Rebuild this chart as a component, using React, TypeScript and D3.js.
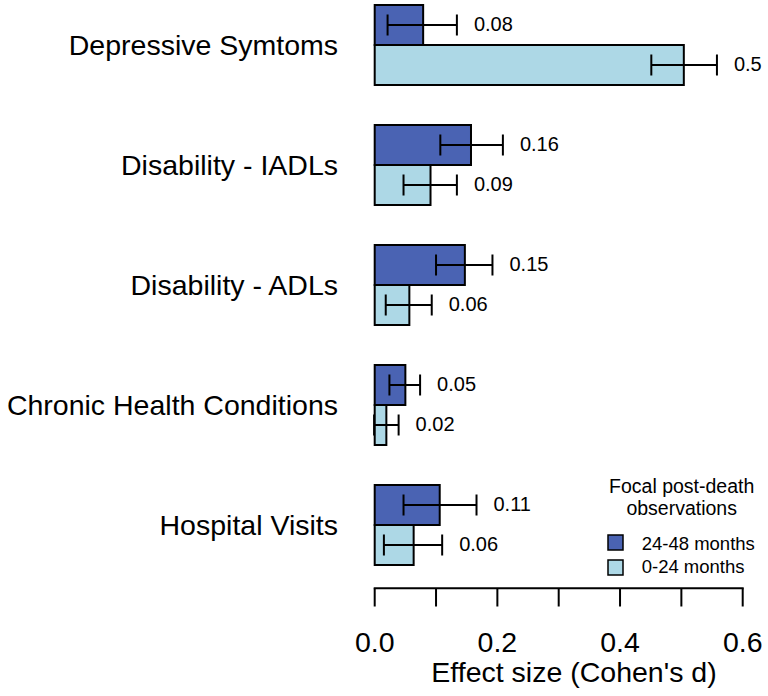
import React from "react";
import * as d3 from "d3";

const categories = ["Depressive Symtoms", "Disability - IADLs", "Disability - ADLs", "Chronic Health Conditions", "Hospital Visits"];
const series = ["24-48 months", "0-24 months"];
const values24_48 = [0.079, 0.157, 0.147, 0.05, 0.106];
const lower24_48 = [0.021, 0.107, 0.1, 0.024, 0.047];
const upper24_48 = [0.134, 0.209, 0.192, 0.074, 0.166];
const labels24_48 = ["0.08", "0.16", "0.15", "0.05", "0.11"];
const values0_24 = [0.504, 0.091, 0.0565, 0.019, 0.0635];
const lower0_24 = [0.451, 0.047, 0.018, -0.001, 0.015];
const upper0_24 = [0.558, 0.134, 0.093, 0.039, 0.11];
const labels0_24 = ["0.5", "0.09", "0.06", "0.02", "0.06"];
const xTicks = [0, 0.1, 0.2, 0.3, 0.4, 0.5, 0.6];
const xTickLabels = ["0.0", "", "0.2", "", "0.4", "", "0.6"];

const DARK = "#4A63B3";
const LIGHT = "#ADD8E6";
const FONT = "'Liberation Sans', Arial, Helvetica, sans-serif";

export default function App() {
  const W = 768, H = 696;
  const x = d3.scaleLinear().domain([0, 0.6]).range([374.7, 742.7]);
  const yGroup = d3.scaleBand<string>().domain(categories).range([5, 605]).paddingInner(1 / 3).paddingOuter(0);
  // each group: 80px tall (two 40px bars), 120px step
  const bw = 40;
  const groupTop = (i: number) => 5 + i * 120;

  const bars: any[] = [];
  categories.forEach((c, i) => {
    const top = groupTop(i);
    const rows = [
      { v: values24_48[i], lo: lower24_48[i], hi: upper24_48[i], lab: labels24_48[i], fill: DARK, y: top },
      { v: values0_24[i], lo: lower0_24[i], hi: upper0_24[i], lab: labels0_24[i], fill: LIGHT, y: top + bw },
    ];
    rows.forEach((r, j) => {
      const cy = r.y + bw / 2;
      bars.push(
        <g key={`${i}-${j}`}>
          <rect x={x(0)} y={r.y} width={x(r.v) - x(0)} height={bw} fill={r.fill} stroke="#000" strokeWidth={2} />
          <line x1={x(r.lo)} x2={x(r.hi)} y1={cy} y2={cy} stroke="#000" strokeWidth={2} />
          <line x1={x(r.lo)} x2={x(r.lo)} y1={cy - 10.5} y2={cy + 10.5} stroke="#000" strokeWidth={2} />
          <line x1={x(r.hi)} x2={x(r.hi)} y1={cy - 10.5} y2={cy + 10.5} stroke="#000" strokeWidth={2} />
          <text x={x(r.hi) + 17} y={cy + 6} fontSize={20} fontFamily={FONT} fill="#000">{r.lab}</text>
        </g>
      );
    });
  });

  return (
    <svg width={W} height={H} style={{ position: "absolute", left: 0, top: 0, background: "#fff" }}>
      <rect x={0} y={0} width={W} height={H} fill="#fff" />
      {categories.map((c, i) => (
        <text key={c} x={338} y={groupTop(i) + bw + 10} textAnchor="end" fontSize={28.5} fontFamily={FONT} fill="#000">{c}</text>
      ))}
      {bars}
      {/* axis */}
      <line x1={x(0)} x2={x(0.6)} y1={588.3} y2={588.3} stroke="#000" strokeWidth={2} strokeLinecap="square" />
      {xTicks.map((t, i) => (
        <g key={t}>
          <line x1={x(t)} x2={x(t)} y1={588.3} y2={606.5} stroke="#000" strokeWidth={2} />
          {xTickLabels[i] && (
            <text x={x(t)} y={651.7} textAnchor="middle" fontSize={28.5} fontFamily={FONT} fill="#000">{xTickLabels[i]}</text>
          )}
        </g>
      ))}
      <text x={574} y={681.7} textAnchor="middle" fontSize={28.5} fontFamily={FONT} fill="#000">Effect size (Cohen's d)</text>
      {/* legend */}
      <text x={681.7} y={493} textAnchor="middle" fontSize={19.5} fontFamily={FONT} fill="#000">Focal post-death</text>
      <text x={681.7} y={515} textAnchor="middle" fontSize={19.5} fontFamily={FONT} fill="#000">observations</text>
      {series.map((s, i) => (
        <g key={s}>
          <rect x={608} y={535 + i * 25} width={15} height={15} fill={i === 0 ? DARK : LIGHT} stroke="#000" strokeWidth={1.5} />
          <text x={641.7} y={549.5 + i * 23} fontSize={18.5} fontFamily={FONT} fill="#000">{s}</text>
        </g>
      ))}
    </svg>
  );
}
